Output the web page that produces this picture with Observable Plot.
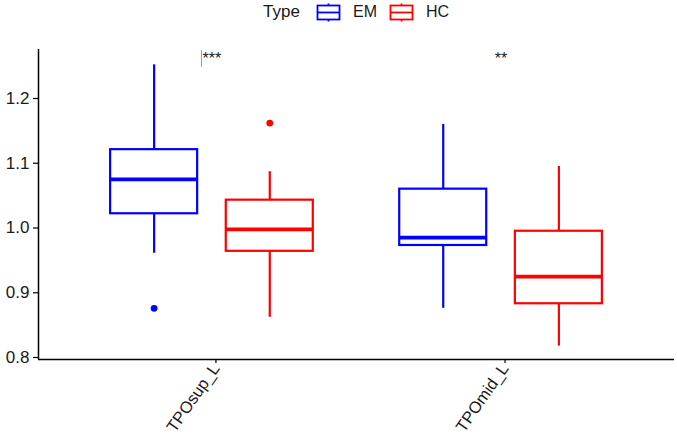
<!DOCTYPE html>
<html>
<head>
<meta charset="utf-8">
<script src="https://cdn.jsdelivr.net/npm/d3@7"></script>
<script src="https://cdn.jsdelivr.net/npm/@observablehq/plot@0.6"></script>
<style>
  html, body { margin: 0; padding: 0; background: #ffffff; }
  body { font-family: "Liberation Sans", Arial, sans-serif; color: #1a1a1a; width: 677px; }
  #legend { position: relative; width: 677px; height: 30px; }
  #legend .lbl { position: absolute; top: 0; line-height: 24px; white-space: nowrap; }
  #legend svg { position: absolute; top: 0; }
</style>
</head>
<body>
<div id="legend"></div>
<div id="chart"></div>
<script>
// ---- data ----
const regions = ["TPOsup_L", "TPOmid_L"];
const types = ["EM", "HC"];
const typeColors = ["#0000FF", "#FF0000"];

const boxRegion   = ["TPOsup_L", "TPOsup_L", "TPOmid_L", "TPOmid_L"];
const boxType     = ["EM", "HC", "EM", "HC"];
const whiskerMin  = [0.961, 0.862, 0.876, 0.8175];
const quart1      = [1.022, 0.964, 0.973, 0.883];
const medianVal   = [1.075, 0.998, 0.985, 0.925];
const quart3      = [1.121, 1.043, 1.060, 0.995];
const whiskerMax  = [1.252, 1.087, 1.160, 1.095];

const outlierRegion = ["TPOsup_L", "TPOsup_L"];
const outlierType   = ["EM", "HC"];
const outlierValue  = [0.876, 1.162];

const sigRegion = ["TPOsup_L", "TPOmid_L"];
const sigLabel  = ["***", "**"];
const sigY      = [1.261, 1.261];
const sigMarkRange = [1.248, 1.274];   // thin grey mark left of "***"

const yTicks = [0.8, 0.9, 1.0, 1.1, 1.2];
const yDomain = [0.7969, 1.2757];

// ---- tables ----
const boxes = boxRegion.map((r, i) => ({
  region: r, type: boxType[i],
  lo: whiskerMin[i], q1: quart1[i], med: medianVal[i], q3: quart3[i], hi: whiskerMax[i]
}));
const outliers = outlierRegion.map((r, i) => ({region: r, type: outlierType[i], value: outlierValue[i]}));
const sigs = sigRegion.map((r, i) => ({region: r, label: sigLabel[i], y: sigY[i]}));

// layout (dodge) helpers
const dodge = {EM: -0.2, HC: 0.2};
const half = 0.1505;
const center = d => regions.indexOf(d.region) + 1;
const pos = d => center(d) + dodge[d.type];

const font = "'Liberation Sans', Arial, sans-serif";

const chart = Plot.plot({
  width: 677,
  height: 414,
  marginLeft: 38,
  marginRight: 3,
  marginTop: 19,
  marginBottom: 85,
  style: {fontFamily: font, fontSize: "17px", color: "#1a1a1a", background: "#ffffff"},
  x: {domain: [0.4, 2.6], axis: null},
  y: {domain: yDomain, axis: null},
  color: {domain: types, range: typeColors},
  marks: [
    Plot.ruleX(boxes, {x: pos, y1: "lo", y2: "q1", stroke: "type", strokeWidth: 2.2}),
    Plot.ruleX(boxes, {x: pos, y1: "q3", y2: "hi", stroke: "type", strokeWidth: 2.2}),
    Plot.rect(boxes, {x1: d => pos(d) - half, x2: d => pos(d) + half, y1: "q1", y2: "q3",
                      fill: "white", stroke: "type", strokeWidth: 2.2}),
    Plot.ruleY(boxes, {x1: d => pos(d) - half, x2: d => pos(d) + half, y: "med",
                       stroke: "type", strokeWidth: 3.8}),
    Plot.dot(outliers, {x: pos, y: "value", fill: "type", r: 3.4, stroke: null}),
    Plot.ruleX(sigs.slice(0, 1), {x: center, y1: () => sigMarkRange[0], y2: () => sigMarkRange[1],
                                   dx: -10.5, stroke: "#9a9a9a", strokeWidth: 1}),
    Plot.text(sigs, {x: center, y: "y", text: "label", fontSize: 16, fill: "#1a1a1a"}),
    Plot.axisY({ticks: yTicks, tickFormat: d3.format(".1f"), tickSize: 5, tickPadding: 4,
                fontSize: 17, stroke: "black", strokeWidth: 1.2, fill: "#1a1a1a"}),
    Plot.axisX({ticks: [1, 2], tickFormat: d => regions[d - 1], tickSize: 4, tickPadding: 2,
                tickRotate: -55, fontSize: 16.5, dx: 4, stroke: "black", strokeWidth: 1.2, fill: "#1a1a1a"}),
    Plot.ruleX([0.4], {stroke: "black", strokeWidth: 1.5}),
    Plot.ruleY([yDomain[0]], {stroke: "black", strokeWidth: 1.5})
  ]
});
document.getElementById("chart").appendChild(chart);

// ---- legend (HTML above the SVG) ----
const legend = document.getElementById("legend");
function addLabel(text, left, size) {
  const s = document.createElement("span");
  s.className = "lbl";
  s.textContent = text;
  s.style.left = left + "px";
  s.style.fontSize = size + "px";
  legend.appendChild(s);
}
function addKey(color, left) {
  const ns = "http://www.w3.org/2000/svg";
  const svg = document.createElementNS(ns, "svg");
  svg.setAttribute("width", 25);
  svg.setAttribute("height", 24);
  svg.style.left = left + "px";
  const mk = (tag, attrs) => {
    const e = document.createElementNS(ns, tag);
    for (const k in attrs) e.setAttribute(k, attrs[k]);
    svg.appendChild(e);
  };
  mk("line", {x1: 12.5, x2: 12.5, y1: 3.5, y2: 5.5, stroke: color, "stroke-width": 1.8});
  mk("line", {x1: 12.5, x2: 12.5, y1: 19.5, y2: 21.5, stroke: color, "stroke-width": 1.8});
  mk("rect", {x: 1.5, y: 5.5, width: 22, height: 14, fill: "white", stroke: color, "stroke-width": 1.8});
  mk("line", {x1: 1.5, x2: 23.5, y1: 12.5, y2: 12.5, stroke: color, "stroke-width": 1.8});
  legend.appendChild(svg);
}
addLabel("Type", 263, 17);
addKey(typeColors[0], 316);
addLabel(types[0], 353, 16);
addKey(typeColors[1], 389);
addLabel(types[1], 426, 16);
</script>
</body>
</html>
